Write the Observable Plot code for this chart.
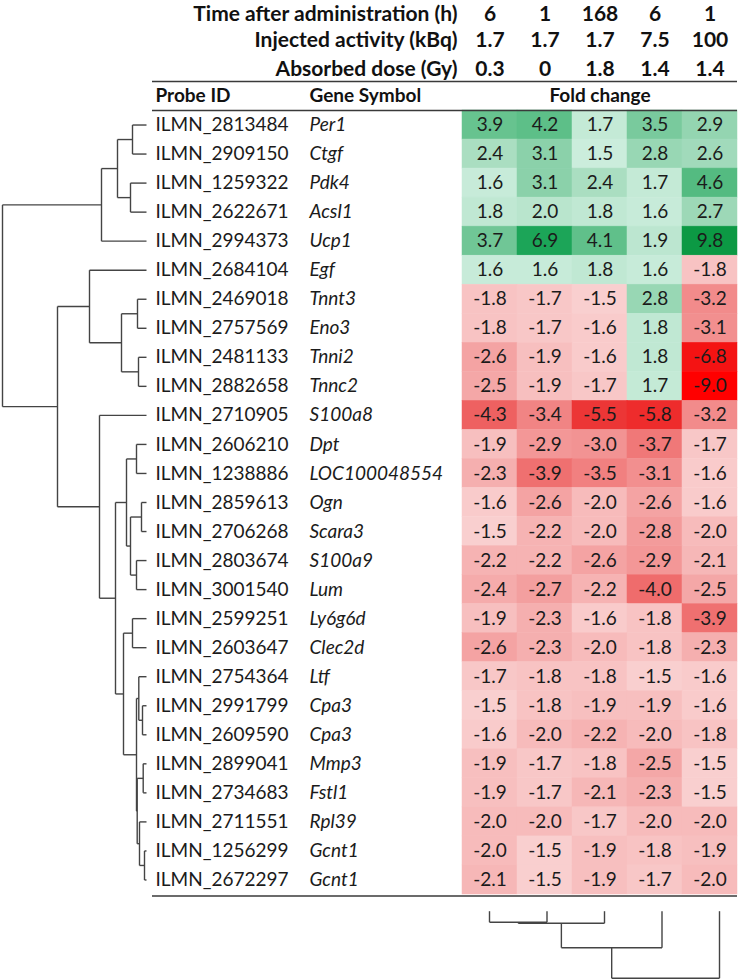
<!DOCTYPE html>
<html><head><meta charset="utf-8">
<script src="https://cdn.jsdelivr.net/npm/d3@7"></script>
<script src="https://cdn.jsdelivr.net/npm/@observablehq/plot@0.6"></script>
<style>
body{margin:0;background:#fff;}
#chart{position:relative;width:738px;height:979px;font-family:Lato,sans-serif;}
#chart svg{position:absolute;left:0;top:0;overflow:visible;background:none;}
</style></head><body><div id="chart"></div>
<script>
// ---------- data ----------
const columns = ["c1", "c2", "c3", "c4", "c5"];
const timeH = ["6", "1", "168", "6", "1"];
const activityKBq = ["1.7", "1.7", "1.7", "7.5", "100"];
const doseGy = ["0.3", "0", "1.8", "1.4", "1.4"];
const headerLabels = ["Time after administration (h)", "Injected activity (kBq)", "Absorbed dose (Gy)"];
const probeIds = ["ILMN_2813484","ILMN_2909150","ILMN_1259322","ILMN_2622671","ILMN_2994373","ILMN_2684104","ILMN_2469018","ILMN_2757569","ILMN_2481133","ILMN_2882658","ILMN_2710905","ILMN_2606210","ILMN_1238886","ILMN_2859613","ILMN_2706268","ILMN_2803674","ILMN_3001540","ILMN_2599251","ILMN_2603647","ILMN_2754364","ILMN_2991799","ILMN_2609590","ILMN_2899041","ILMN_2734683","ILMN_2711551","ILMN_1256299","ILMN_2672297"];
const geneSymbols = ["Per1","Ctgf","Pdk4","Acsl1","Ucp1","Egf","Tnnt3","Eno3","Tnni2","Tnnc2","S100a8","Dpt","LOC100048554","Ogn","Scara3","S100a9","Lum","Ly6g6d","Clec2d","Ltf","Cpa3","Cpa3","Mmp3","Fstl1","Rpl39","Gcnt1","Gcnt1"];
const foldChange = [
  [3.9, 4.2, 1.7, 3.5, 2.9],
  [2.4, 3.1, 1.5, 2.8, 2.6],
  [1.6, 3.1, 2.4, 1.7, 4.6],
  [1.8, 2.0, 1.8, 1.6, 2.7],
  [3.7, 6.9, 4.1, 1.9, 9.8],
  [1.6, 1.6, 1.8, 1.6, -1.8],
  [-1.8, -1.7, -1.5, 2.8, -3.2],
  [-1.8, -1.7, -1.6, 1.8, -3.1],
  [-2.6, -1.9, -1.6, 1.8, -6.8],
  [-2.5, -1.9, -1.7, 1.7, -9.0],
  [-4.3, -3.4, -5.5, -5.8, -3.2],
  [-1.9, -2.9, -3.0, -3.7, -1.7],
  [-2.3, -3.9, -3.5, -3.1, -1.6],
  [-1.6, -2.6, -2.0, -2.6, -1.6],
  [-1.5, -2.2, -2.0, -2.8, -2.0],
  [-2.2, -2.2, -2.6, -2.9, -2.1],
  [-2.4, -2.7, -2.2, -4.0, -2.5],
  [-1.9, -2.3, -1.6, -1.8, -3.9],
  [-2.6, -2.3, -2.0, -1.8, -2.3],
  [-1.7, -1.8, -1.8, -1.5, -1.6],
  [-1.5, -1.8, -1.9, -1.9, -1.6],
  [-1.6, -2.0, -2.2, -2.0, -1.8],
  [-1.9, -1.7, -1.8, -2.5, -1.5],
  [-1.9, -1.7, -2.1, -2.3, -1.5],
  [-2.0, -2.0, -1.7, -2.0, -2.0],
  [-2.0, -1.5, -1.9, -1.8, -1.9],
  [-2.1, -1.5, -1.9, -1.7, -2.0]
];
// row dendrogram merges: [childA, childB, height]; ids >= 27 are earlier merges (27 + merge index)
const rowMerges = [
  [0, 1, 14], [2, 3, 16], [27, 28, 29], [29, 4, 45],
  [6, 7, 9], [8, 9, 8], [31, 32, 25], [5, 33, 57],
  [11, 12, 10], [13, 14, 5], [15, 16, 10], [36, 37, 16], [35, 38, 20],
  [17, 18, 14], [20, 21, 4], [19, 41, 7.7], [22, 23, 3.3], [25, 26, 2],
  [24, 44, 7], [43, 45, 9.3], [42, 46, 10], [40, 47, 23], [39, 48, 31],
  [10, 49, 47], [34, 50, 89], [30, 51, 144]
];
// column dendrogram merges (ids >= 5 are earlier merges)
const colMerges = [[0, 1, 11], [5, 2, 12], [6, 3, 36.5], [7, 4, 67]];

// ---------- derived tables ----------
const nRows = probeIds.length;
const cells = [];
foldChange.forEach((r, i) => r.forEach((v, j) => cells.push({row: i, col: columns[j], value: v, label: v.toFixed(1)})));
const rowsTbl = probeIds.map((p, i) => ({row: i, probe: p, gene: geneSymbols[i]}));
const headerVals = [];
[timeH, activityKBq, doseGy].forEach((arr, k) => arr.forEach((t, j) => headerVals.push({row: -4 + k, col: columns[j], text: t})));
const headerLbl = headerLabels.map((t, k) => ({row: -4 + k, text: t}));

function dendro(merges, nLeaves) {
  const pos = [], hgt = [], segs = [];
  for (let i = 0; i < nLeaves; i++) { pos[i] = i; hgt[i] = 0; }
  merges.forEach(([a, b, h], k) => {
    const id = nLeaves + k;
    pos[id] = (pos[a] + pos[b]) / 2; hgt[id] = h;
    segs.push({p1: pos[a], h1: hgt[a], p2: pos[a], h2: h});
    segs.push({p1: pos[b], h1: hgt[b], p2: pos[b], h2: h});
    segs.push({p1: pos[a], h1: h, p2: pos[b], h2: h});
  });
  return segs;
}
const rowSegs = dendro(rowMerges, nRows);
const colSegs = dendro(colMerges, columns.length);

// ---------- plots ----------
const W = 738, H = 979;
const yScale = {domain: [-0.5, nRows - 0.5], range: [110, 894]};
const FONT = "Lato, sans-serif";
const BODY = 19, HEAD = 21;
const isTop = d => d.row === -4;

const table = Plot.plot({
  width: W, height: H,
  marginLeft: 462, marginRight: 1, marginTop: 110, marginBottom: H - 894,
  style: {fontFamily: FONT, background: "transparent"},
  x: {type: "band", domain: columns, padding: 0, axis: null},
  y: {...yScale, axis: null},
  color: {type: "linear",
    domain: [-9, -6.5, -5.5, -4, -2.5, -1.5, 1.5, 2.5, 4, 7, 9.8],
    range: ["#ff0000", "#f31616", "#ec3636", "#ef6c6c", "#f4a7a7", "#f9cfcf", "#cbeddc", "#a6dcbe", "#62c18c", "#1aa456", "#0c9944"]},
  marks: [
    Plot.barY(cells, {x: "col", y1: d => d.row - 0.5, y2: d => d.row + 0.5, fill: "value", stroke: "value", strokeWidth: 0.5}),
    Plot.text(cells, {x: "col", y: "row", text: "label", fontSize: BODY, fill: "#1b1b1b"}),
    Plot.text(rowsTbl, {y: "row", text: "probe", frameAnchor: "left", textAnchor: "start", dx: -307, fontSize: BODY, fill: "#1b1b1b"}),
    Plot.text(rowsTbl, {y: "row", text: "gene", frameAnchor: "left", textAnchor: "start", dx: -153, fontSize: BODY, fontStyle: "italic", fill: "#1b1b1b"}),
    // header rows (top row nudged down so it stays inside the picture)
    Plot.text(headerVals.filter(isTop), {x: "col", y: "row", text: "text", fontSize: HEAD, fontWeight: "bold", fill: "#111", dy: 5.5}),
    Plot.text(headerLbl.filter(isTop), {y: "row", text: "text", frameAnchor: "left", textAnchor: "end", dx: -5, fontSize: HEAD, fontWeight: "bold", fill: "#111", dy: 5.5}),
    Plot.text(headerVals.filter(d => !isTop(d)), {x: "col", y: "row", text: "text", fontSize: HEAD, fontWeight: "bold", fill: "#111", dy: 2.5}),
    Plot.text(headerLbl.filter(d => !isTop(d)), {y: "row", text: "text", frameAnchor: "left", textAnchor: "end", dx: -5, fontSize: HEAD, fontWeight: "bold", fill: "#111", dy: 2.5}),
    Plot.text([{row: -1, text: "Probe ID"}], {y: "row", text: "text", frameAnchor: "left", textAnchor: "start", dx: -307, fontSize: BODY, fontWeight: "bold", fill: "#111"}),
    Plot.text([{row: -1, text: "Gene Symbol"}], {y: "row", text: "text", frameAnchor: "left", textAnchor: "start", dx: -153, fontSize: BODY, fontWeight: "bold", fill: "#111"}),
    Plot.text([{row: -1, text: "Fold change"}], {y: "row", text: "text", frameAnchor: "middle", fontSize: BODY, fontWeight: "bold", fill: "#111"}),
    Plot.ruleY([-1.5, -0.5, nRows - 0.45], {insetLeft: -310, stroke: "#3a3a3a", strokeWidth: 1.5})
  ]
});

const rowDendro = Plot.plot({
  width: W, height: H, margin: 0,
  style: {background: "transparent"},
  x: {domain: [144, 0], range: [2, 146], axis: null},
  y: {...yScale, axis: null},
  marks: [
    Plot.link(rowSegs, {x1: "h1", y1: "p1", x2: "h2", y2: "p2", stroke: "#444", strokeWidth: 1.4})
  ]
});

const colDendro = Plot.plot({
  width: W, height: H, margin: 0,
  style: {background: "transparent"},
  x: {domain: [0, columns.length - 1], range: [489, 719], axis: null},
  y: {domain: [0, 67], range: [910.7, 977.7], axis: null},
  marks: [
    Plot.link(colSegs, {x1: "p1", y1: "h1", x2: "p2", y2: "h2", stroke: "#444", strokeWidth: 1.4})
  ]
});

const root = document.getElementById("chart");
root.append(table, rowDendro, colDendro);
</script>
</body></html>
